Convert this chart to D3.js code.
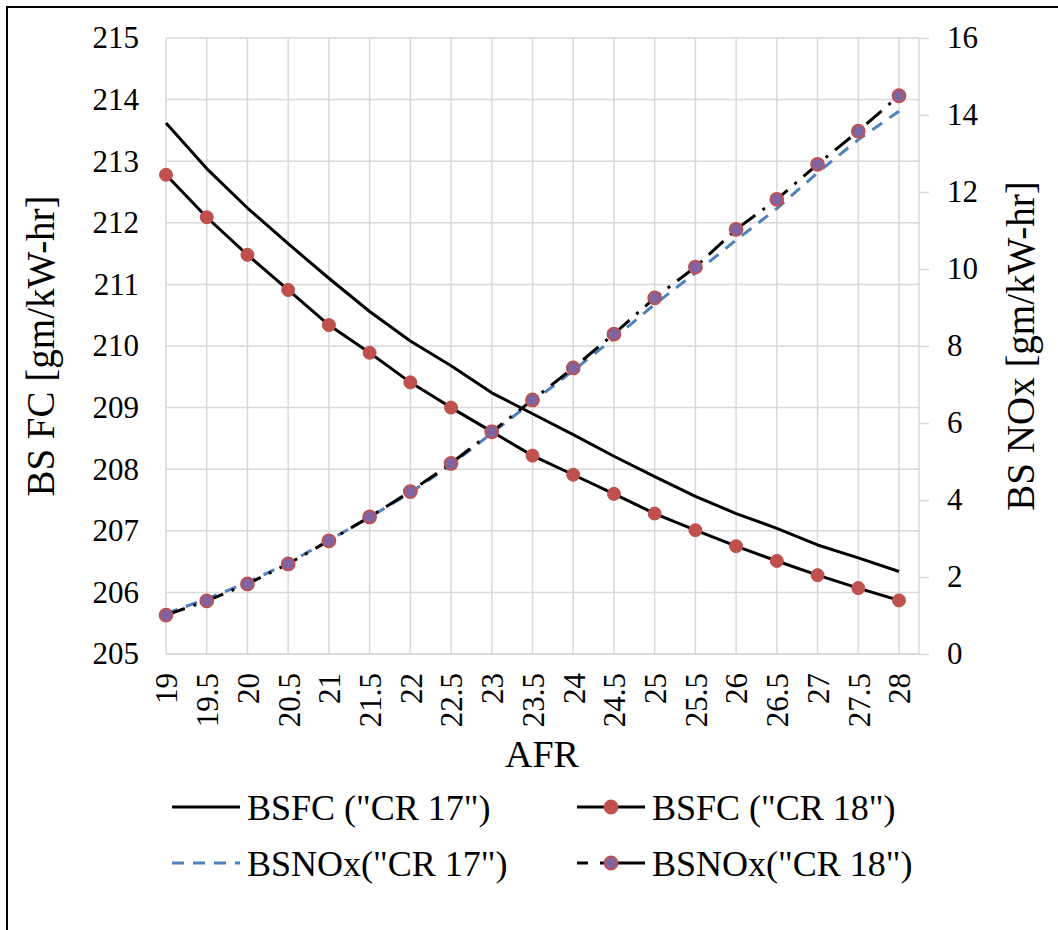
<!DOCTYPE html>
<html>
<head>
<meta charset="utf-8">
<script src="https://cdn.jsdelivr.net/npm/d3@7"></script>
<style>
  html, body { margin: 0; padding: 0; background: #fff; }
  svg { display: block; }
  text { font-family: "Liberation Serif", "Times New Roman", serif; fill: #000; }
</style>
</head>
<body>
<svg id="chart" width="1058" height="930"></svg>
<script>
// ---- Data ----
const categories = ["19","19.5","20","20.5","21","21.5","22","22.5","23","23.5","24","24.5","25","25.5","26","26.5","27","27.5","28"];
const bsfcCR17 = [213.62,212.88,212.24,211.66,211.10,210.56,210.08,209.68,209.24,208.90,208.56,208.21,207.88,207.56,207.28,207.04,206.77,206.56,206.34];
const bsfcCR18 = [212.78,212.09,211.48,210.91,210.34,209.89,209.41,209.00,208.61,208.22,207.91,207.60,207.28,207.01,206.75,206.51,206.28,206.07,205.87];
const bsnoxCR17 = [1.05,1.43,1.86,2.36,2.95,3.55,4.19,4.91,5.74,6.55,7.36,8.20,9.08,9.90,10.75,11.57,12.50,13.36,14.10];
const bsnoxCR18 = [1.01,1.38,1.82,2.34,2.94,3.56,4.22,4.95,5.77,6.60,7.43,8.31,9.25,10.05,11.03,11.81,12.72,13.58,14.50];
const leftTicks = [205,206,207,208,209,210,211,212,213,214,215];
const rightTicks = [0,2,4,6,8,10,12,14,16];
const xTitle = "AFR";
const yLeftTitle = "BS FC [gm/kW-hr]";
const yRightTitle = "BS NOx [gm/kW-hr]";
const legendItems = ["BSFC (\"CR 17\")", "BSFC (\"CR 18\")", "BSNOx(\"CR 17\")", "BSNOx(\"CR 18\")"];

// ---- Layout ----
const plot = { left: 166, right: 919, top: 38, bottom: 654, lastCat: 899 };
const C = { grid: "#d9d9d9", red: "#C0504D", blue: "#4F81BD", purple: "#8064A2" };

const svg = d3.select("#chart");

// outer border
svg.append("rect").attr("x", 7).attr("y", 7).attr("width", 1200).attr("height", 1000)
  .attr("fill", "none").attr("stroke", "#000").attr("stroke-width", 2);

const x = d3.scalePoint().domain(categories).range([plot.left, plot.lastCat]);
const yL = d3.scaleLinear().domain([205, 215]).range([plot.bottom, plot.top]);
const yR = d3.scaleLinear().domain([0, 16]).range([plot.bottom, plot.top]);

// gridlines
const g = svg.append("g");
g.selectAll("line.h").data(leftTicks).join("line")
  .attr("x1", plot.left).attr("x2", plot.right)
  .attr("y1", d => yL(d)).attr("y2", d => yL(d))
  .attr("stroke", C.grid).attr("stroke-width", 1.5);
g.selectAll("line.v").data(categories).join("line")
  .attr("x1", d => x(d)).attr("x2", d => x(d))
  .attr("y1", plot.top).attr("y2", plot.bottom)
  .attr("stroke", C.grid).attr("stroke-width", 1.5);

// left axis labels
const axL = d3.axisLeft(yL).tickValues(leftTicks).tickSize(0).tickPadding(27);
const gL = svg.append("g").attr("transform", `translate(${plot.left},0)`).call(axL);
gL.select(".domain").remove();
gL.selectAll("text").attr("font-size", 31).style("font-family", '"Liberation Serif", serif');

// right axis
const axR = d3.axisRight(yR).tickValues(rightTicks).tickSize(10).tickPadding(18);
const gR = svg.append("g").attr("transform", `translate(${plot.right},0)`).call(axR);
gR.select(".domain").attr("stroke", C.grid).attr("stroke-width", 1.5).attr("d", `M0,${plot.top}V${plot.bottom}`);
gR.selectAll(".tick line").attr("stroke", C.grid).attr("stroke-width", 1.5);
gR.selectAll("text").attr("font-size", 31).style("font-family", '"Liberation Serif", serif');

// bottom axis
const axB = d3.axisBottom(x).tickSize(0).tickPadding(0);
const gB = svg.append("g").attr("transform", `translate(0,${plot.bottom})`).call(axB);
gB.select(".domain").attr("stroke", C.grid).attr("stroke-width", 1.5).attr("d", `M${plot.left},0H${plot.right}`);
gB.selectAll("text")
  .attr("font-size", 31).style("font-family", '"Liberation Serif", serif')
  .attr("text-anchor", "end")
  .attr("transform", "rotate(-90)")
  .attr("x", -19).attr("y", 0).attr("dy", "0.35em");

// titles
svg.append("text").attr("x", 542).attr("y", 767).attr("text-anchor", "middle")
  .attr("font-size", 38).text(xTitle);
svg.append("text").attr("transform", "translate(40,346) rotate(-90)")
  .attr("text-anchor", "middle").attr("dy", "0.35em").attr("font-size", 39).text(yLeftTitle);
svg.append("text").attr("transform", "translate(1020,346) rotate(-90)")
  .attr("text-anchor", "middle").attr("dy", "0.35em").attr("font-size", 39).text(yRightTitle);

// series
const lineL = d3.line().x((d, i) => x(categories[i])).y(d => yL(d));
const lineR = d3.line().x((d, i) => x(categories[i])).y(d => yR(d));

svg.append("path").attr("d", lineL(bsfcCR17)).attr("fill", "none")
  .attr("stroke", "#000").attr("stroke-width", 3).attr("stroke-linejoin", "round");
svg.append("path").attr("d", lineL(bsfcCR18)).attr("fill", "none")
  .attr("stroke", "#000").attr("stroke-width", 3).attr("stroke-linejoin", "round");
svg.selectAll("circle.b18").data(bsfcCR18).join("circle").attr("class", "b18")
  .attr("cx", (d, i) => x(categories[i])).attr("cy", d => yL(d)).attr("r", 6.5)
  .attr("fill", C.red).attr("stroke", C.red).attr("stroke-width", 1);

svg.append("path").attr("d", lineR(bsnoxCR17)).attr("fill", "none")
  .attr("stroke", C.blue).attr("stroke-width", 3).attr("stroke-dasharray", "12,9");
svg.append("path").attr("d", lineR(bsnoxCR18)).attr("fill", "none")
  .attr("stroke", "#000").attr("stroke-width", 3).attr("stroke-dasharray", "20,9,3,9");
svg.selectAll("circle.n18").data(bsnoxCR18).join("circle").attr("class", "n18")
  .attr("cx", (d, i) => x(categories[i])).attr("cy", d => yR(d)).attr("r", 6.5)
  .attr("fill", C.purple).attr("stroke", C.red).attr("stroke-width", 1.8);

// legend
const lg = svg.append("g");
const rows = [807, 863];
const cols = [{ x1: 172, x2: 240, tx: 247 }, { x1: 577, x2: 645, tx: 652 }];
const styles = [
  { stroke: "#000", dash: null, marker: null },
  { stroke: "#000", dash: null, marker: { fill: C.red, stroke: C.red } },
  { stroke: C.blue, dash: "12,9", marker: null },
  { stroke: "#000", dash: "11,12,45", marker: { fill: C.purple, stroke: C.red } }
];
legendItems.forEach((label, i) => {
  const col = cols[i % 2], y = rows[Math.floor(i / 2)], s = styles[i];
  const ln = lg.append("line").attr("x1", col.x1).attr("x2", col.x2).attr("y1", y).attr("y2", y)
    .attr("stroke", s.stroke).attr("stroke-width", 3);
  if (s.dash) ln.attr("stroke-dasharray", s.dash);
  if (s.marker) {
    lg.append("circle").attr("cx", (col.x1 + col.x2) / 2).attr("cy", y).attr("r", 6.5)
      .attr("fill", s.marker.fill).attr("stroke", s.marker.stroke).attr("stroke-width", 1.8);
  }
  lg.append("text").attr("x", col.tx).attr("y", y).attr("dy", "0.35em")
    .attr("font-size", 36).text(label);
});
</script>
</body>
</html>
